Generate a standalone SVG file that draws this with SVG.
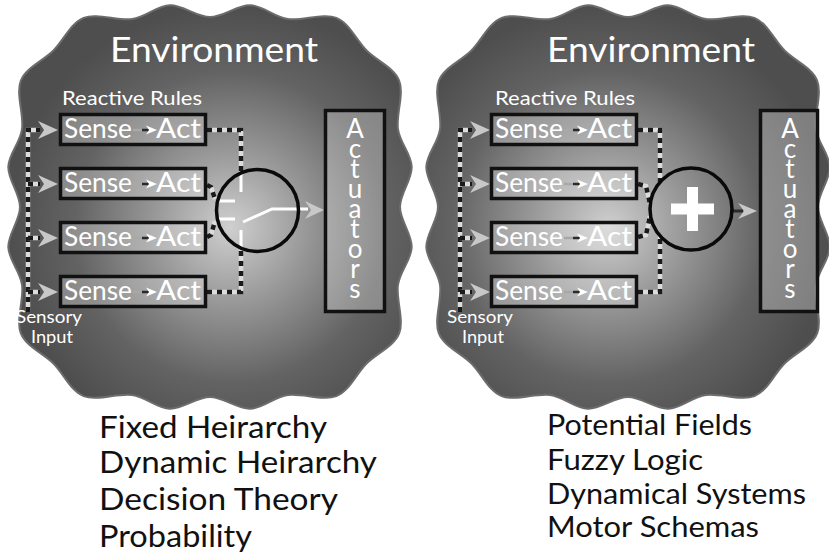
<svg xmlns="http://www.w3.org/2000/svg" xmlns:xlink="http://www.w3.org/1999/xlink" width="829" height="554" viewBox="0 0 829 554">
<style>
  text { font-family: Lato, "Open Sans", "DejaVu Sans", sans-serif; }
  .w { fill: #ffffff; }
  .env { font-size: 35px; }
  .rr { font-size: 19px; }
  .sense { font-size: 26px; }
  .act { font-size: 26px; writing-mode: tb; text-orientation: upright; }
  .si { font-size: 18px; }
  .bl { font-size: 31px; fill: #111111; }
  .br { font-size: 29px; fill: #111111; }
  .box { fill: #ffffff; fill-opacity: 0.28; stroke: #111111; stroke-width: 3.5; }
  .ring { fill: none; stroke: #0a0a0a; stroke-width: 3.5; }
  .base { fill: none; stroke: #dcdcdc; stroke-width: 4.5; }
  .dash { fill: none; stroke: #1a1a1a; stroke-width: 4.5; stroke-dasharray: 5 5; }
  .wl { fill: none; stroke: #ffffff; stroke-width: 3; }
  .ah { fill: #c8c8c8; }
  .wah { fill: #ffffff; }
  .ga { stroke: #a8a8a8; stroke-width: 2.5; }
  .da { stroke: #2a2a2a; stroke-width: 2.5; }
  .blob { stroke: #6c6c6c; stroke-width: 2; }
</style>
<defs>
  <radialGradient id="bg" cx="0.55" cy="0.55" r="0.55">
    <stop offset="0" stop-color="#cfcfcf"/>
    <stop offset="0.35" stop-color="#979797"/>
    <stop offset="0.7" stop-color="#636363"/>
    <stop offset="1" stop-color="#4e4e4e"/>
  </radialGradient>
  <path id="blobshape" d="M190,0 C190,13.37 202.03,27.14 201.69,40.12 C201.35,53.1 190.05,63.48 187.96,77.86 C185.87,92.24 194.38,113.27 189.14,126.38 C183.9,139.49 167,146.08 156.54,156.54 C146.08,167 139.49,183.9 126.38,189.14 C113.27,194.38 92.24,185.87 77.86,187.96 C63.48,190.05 53.1,201.35 40.12,201.69 C27.14,202.03 13.37,190 0,190 C-13.37,190 -27.14,202.03 -40.12,201.69 C-53.1,201.35 -63.48,190.05 -77.86,187.96 C-92.24,185.87 -113.27,194.38 -126.38,189.14 C-139.49,183.9 -146.08,167 -156.54,156.54 C-167,146.08 -183.9,139.49 -189.14,126.38 C-194.38,113.27 -185.87,92.24 -187.96,77.86 C-190.05,63.48 -201.35,53.1 -201.69,40.12 C-202.03,27.14 -190,13.37 -190,0 C-190,-13.37 -202.03,-27.14 -201.69,-40.12 C-201.35,-53.1 -190.05,-63.48 -187.96,-77.86 C-185.87,-92.24 -194.38,-113.27 -189.14,-126.38 C-183.9,-139.49 -167,-146.08 -156.54,-156.54 C-146.08,-167 -139.49,-183.9 -126.38,-189.14 C-113.27,-194.38 -92.24,-185.87 -77.86,-187.96 C-63.48,-190.05 -53.1,-201.35 -40.12,-201.69 C-27.14,-202.03 -13.37,-190 0,-190 C13.37,-190 27.14,-202.03 40.12,-201.69 C53.1,-201.35 63.48,-190.05 77.86,-187.96 C92.24,-185.87 113.27,-194.38 126.38,-189.14 C139.49,-183.9 146.08,-167 156.54,-156.54 C167,-146.08 183.9,-139.49 189.14,-126.38 C194.38,-113.27 185.87,-92.24 187.96,-77.86 C190.05,-63.48 201.35,-53.1 201.69,-40.12 C202.03,-27.14 190,-13.37 190,0 Z"/>
  <path id="cL1" d="M28,312 V130 H40"/>
  <path id="cL2" d="M28,184 H40"/>
  <path id="cL3" d="M28,238 H40"/>
  <path id="cL4" d="M28,292 H40"/>
  <path id="cL5" d="M207,130 H241 V172"/>
  <path id="cL6" d="M207,292 H241 V249"/>
  <path id="cL7" d="M207,185 L211,187 L215,199"/>
  <path id="cL8" d="M207,237 L211,235 L215,221"/>
  <path id="cR1" d="M460,312 V130 H472"/>
  <path id="cR2" d="M460,184 H472"/>
  <path id="cR3" d="M460,238 H472"/>
  <path id="cR4" d="M460,292 H472"/>
  <path id="cR5" d="M638,130 H660 V182"/>
  <path id="cR6" d="M638,292 H660 V236"/>
  <path id="cR7" d="M638,184 L646,186 L650,204"/>
  <path id="cR8" d="M638,237 L646,235 L650,216"/>
  <g id="inarrow">
    <polygon class="ah" points="-20,-9 0,0 -20,9 -14,0"/>
  </g>
  <g id="senseact">
    <line class="ga" x1="133" y1="0" x2="142" y2="0"/>
    <line class="da" x1="142" y1="0" x2="150" y2="0"/>
    <polygon class="wah" points="146,-4.5 157,0 146,4.5 149,0"/>
  </g>
</defs>

<g id="env-left">
  <use xlink:href="#blobshape" class="blob" fill="url(#bg)" transform="translate(210,207)"/>
  <text class="w env" x="110" y="62" textLength="208" lengthAdjust="spacingAndGlyphs">Environment</text>
</g>
<g id="env-right">
  <use xlink:href="#blobshape" class="blob" fill="url(#bg)" transform="translate(628,207) scale(-1,1)"/>
  <text class="w env" x="547" y="62" textLength="208" lengthAdjust="spacingAndGlyphs">Environment</text>
</g>

<g id="connectors">
  <use xlink:href="#cL1" class="base"/><use xlink:href="#cL1" class="dash"/>
  <use xlink:href="#cL2" class="base"/><use xlink:href="#cL2" class="dash"/>
  <use xlink:href="#cL3" class="base"/><use xlink:href="#cL3" class="dash"/>
  <use xlink:href="#cL4" class="base"/><use xlink:href="#cL4" class="dash"/>
  <use xlink:href="#cL5" class="base"/><use xlink:href="#cL5" class="dash"/>
  <use xlink:href="#cL6" class="base"/><use xlink:href="#cL6" class="dash"/>
  <use xlink:href="#cL7" class="base"/><use xlink:href="#cL7" class="dash"/>
  <use xlink:href="#cL8" class="base"/><use xlink:href="#cL8" class="dash"/>
  <use xlink:href="#inarrow" x="58" y="130"/>
  <use xlink:href="#inarrow" x="58" y="184"/>
  <use xlink:href="#inarrow" x="58" y="238"/>
  <use xlink:href="#inarrow" x="58" y="292"/>
  <path class="wl" d="M241,172 V192 M241,230 V249 M217,201 H235 M217,219 H235 M243,222 L272,209 H308"/>
  <polygon class="ah" points="305,201 324,210 305,219 311,210"/>

  <use xlink:href="#cR1" class="base"/><use xlink:href="#cR1" class="dash"/>
  <use xlink:href="#cR2" class="base"/><use xlink:href="#cR2" class="dash"/>
  <use xlink:href="#cR3" class="base"/><use xlink:href="#cR3" class="dash"/>
  <use xlink:href="#cR4" class="base"/><use xlink:href="#cR4" class="dash"/>
  <use xlink:href="#cR5" class="base"/><use xlink:href="#cR5" class="dash"/>
  <use xlink:href="#cR6" class="base"/><use xlink:href="#cR6" class="dash"/>
  <use xlink:href="#cR7" class="base"/><use xlink:href="#cR7" class="dash"/>
  <use xlink:href="#cR8" class="base"/><use xlink:href="#cR8" class="dash"/>
  <use xlink:href="#inarrow" x="490" y="130"/>
  <use xlink:href="#inarrow" x="490" y="184"/>
  <use xlink:href="#inarrow" x="490" y="238"/>
  <use xlink:href="#inarrow" x="490" y="292"/>
  <line x1="732" y1="211" x2="743" y2="211" stroke="#2a2a2a" stroke-width="3"/>
  <polygon class="ah" points="738,203 757,211 738,219 744,211"/>
</g>

<g id="rules-label-left"><text class="w rr" x="62" y="105" textLength="140" lengthAdjust="spacingAndGlyphs">Reactive Rules</text></g>
<g id="rule-left-1">
  <rect class="box" x="60.5" y="114.5" width="145" height="30"/>
  <text class="w sense" x="64" y="138" textLength="68" lengthAdjust="spacingAndGlyphs">Sense</text>
  <use xlink:href="#senseact" x="0" y="130"/>
  <text class="w sense" x="156" y="138" textLength="45" lengthAdjust="spacingAndGlyphs">Act</text>
</g>
<g id="rule-left-2">
  <rect class="box" x="60.5" y="168.5" width="145" height="30"/>
  <text class="w sense" x="64" y="192" textLength="68" lengthAdjust="spacingAndGlyphs">Sense</text>
  <use xlink:href="#senseact" x="0" y="184"/>
  <text class="w sense" x="156" y="192" textLength="45" lengthAdjust="spacingAndGlyphs">Act</text>
</g>
<g id="rule-left-3">
  <rect class="box" x="60.5" y="222.5" width="145" height="30"/>
  <text class="w sense" x="64" y="246" textLength="68" lengthAdjust="spacingAndGlyphs">Sense</text>
  <use xlink:href="#senseact" x="0" y="238"/>
  <text class="w sense" x="156" y="246" textLength="45" lengthAdjust="spacingAndGlyphs">Act</text>
</g>
<g id="rule-left-4">
  <rect class="box" x="60.5" y="276.5" width="145" height="30"/>
  <text class="w sense" x="64" y="300" textLength="68" lengthAdjust="spacingAndGlyphs">Sense</text>
  <use xlink:href="#senseact" x="0" y="292"/>
  <text class="w sense" x="156" y="300" textLength="45" lengthAdjust="spacingAndGlyphs">Act</text>
</g>
<g id="sensory-left">
  <text class="w si" x="16" y="323" textLength="66" lengthAdjust="spacingAndGlyphs">Sensory</text>
  <text class="w si" x="31" y="343" textLength="42" lengthAdjust="spacingAndGlyphs">Input</text>
</g>
<g id="switch-left">
  <circle class="ring" cx="257.5" cy="210.5" r="41"/>
</g>
<g id="actuators-left">
  <rect class="box" x="325.5" y="110.5" width="59" height="201"/>
  <text class="w act" x="355" y="112" textLength="192" lengthAdjust="spacing">Actuators</text>
</g>

<g id="rules-label-right"><text class="w rr" x="495" y="105" textLength="140" lengthAdjust="spacingAndGlyphs">Reactive Rules</text></g>
<g id="rule-right-1">
  <rect class="box" x="491.5" y="114.5" width="145" height="30"/>
  <text class="w sense" x="495" y="138" textLength="68" lengthAdjust="spacingAndGlyphs">Sense</text>
  <use xlink:href="#senseact" x="431" y="130"/>
  <text class="w sense" x="587" y="138" textLength="45" lengthAdjust="spacingAndGlyphs">Act</text>
</g>
<g id="rule-right-2">
  <rect class="box" x="491.5" y="168.5" width="145" height="30"/>
  <text class="w sense" x="495" y="192" textLength="68" lengthAdjust="spacingAndGlyphs">Sense</text>
  <use xlink:href="#senseact" x="431" y="184"/>
  <text class="w sense" x="587" y="192" textLength="45" lengthAdjust="spacingAndGlyphs">Act</text>
</g>
<g id="rule-right-3">
  <rect class="box" x="491.5" y="222.5" width="145" height="30"/>
  <text class="w sense" x="495" y="246" textLength="68" lengthAdjust="spacingAndGlyphs">Sense</text>
  <use xlink:href="#senseact" x="431" y="238"/>
  <text class="w sense" x="587" y="246" textLength="45" lengthAdjust="spacingAndGlyphs">Act</text>
</g>
<g id="rule-right-4">
  <rect class="box" x="491.5" y="276.5" width="145" height="30"/>
  <text class="w sense" x="495" y="300" textLength="68" lengthAdjust="spacingAndGlyphs">Sense</text>
  <use xlink:href="#senseact" x="431" y="292"/>
  <text class="w sense" x="587" y="300" textLength="45" lengthAdjust="spacingAndGlyphs">Act</text>
</g>
<g id="sensory-right">
  <text class="w si" x="447" y="323" textLength="66" lengthAdjust="spacingAndGlyphs">Sensory</text>
  <text class="w si" x="462" y="343" textLength="42" lengthAdjust="spacingAndGlyphs">Input</text>
</g>
<g id="sum-right">
  <circle class="ring" cx="691" cy="209" r="41"/>
  <rect x="671" y="203.5" width="43" height="11" fill="#ffffff"/>
  <rect x="687" y="187" width="11" height="44" fill="#ffffff"/>
</g>
<g id="actuators-right">
  <rect class="box" x="760.5" y="110.5" width="57" height="201"/>
  <text class="w act" x="790" y="112" textLength="192" lengthAdjust="spacing">Actuators</text>
</g>

<g id="caption-left">
  <text class="bl" x="99" y="438" textLength="228" lengthAdjust="spacingAndGlyphs">Fixed Heirarchy</text>
  <text class="bl" x="99" y="473" textLength="278" lengthAdjust="spacingAndGlyphs">Dynamic Heirarchy</text>
  <text class="bl" x="99" y="510" textLength="239" lengthAdjust="spacingAndGlyphs">Decision Theory</text>
  <text class="bl" x="99" y="547" textLength="153" lengthAdjust="spacingAndGlyphs">Probability</text>
</g>
<g id="caption-right">
  <text class="br" x="547" y="435" textLength="205" lengthAdjust="spacingAndGlyphs">Potential Fields</text>
  <text class="br" x="547" y="470" textLength="156" lengthAdjust="spacingAndGlyphs">Fuzzy Logic</text>
  <text class="br" x="547" y="504" textLength="259" lengthAdjust="spacingAndGlyphs">Dynamical Systems</text>
  <text class="br" x="547" y="537" textLength="212" lengthAdjust="spacingAndGlyphs">Motor Schemas</text>
</g>
</svg>
